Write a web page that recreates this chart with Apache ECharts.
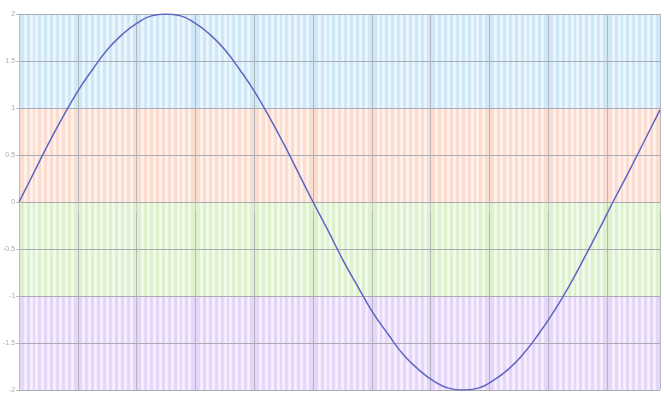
<!DOCTYPE html>
<html><head><meta charset="utf-8">
<script src="https://cdn.jsdelivr.net/npm/echarts@6/dist/echarts.min.js"></script>
<style>html,body{margin:0;padding:0;background:#fff}#c{width:664px;height:403px}</style>
</head><body><div id="c"></div>
<script>
const xValues = [0,0.25,0.5,0.75,1,1.25,1.5,1.75,2,2.25,2.5,2.75,3,3.25,3.5,3.75,4,4.25,4.5,4.75,5,5.26,5.51,5.77,6.02,6.28,6.53,6.79,7.04,7.3,7.55,7.81,8.06,8.32,8.57,8.83,9.08,9.34,9.59,9.85,10.1,10.36,10.61,10.9];
const yValues = [0,0.31,0.62,0.91,1.18,1.41,1.62,1.78,1.9,1.98,2,1.98,1.9,1.78,1.62,1.41,1.18,0.91,0.62,0.31,0,-0.31,-0.62,-0.91,-1.18,-1.41,-1.62,-1.78,-1.9,-1.98,-2,-1.98,-1.9,-1.78,-1.62,-1.41,-1.18,-0.91,-0.62,-0.31,0,0.31,0.62,0.98];
const yTicks = [-2,-1.5,-1,-0.5,0,0.5,1,1.5,2];
// band colours from bottom (-2) to top (2), one per 0.5 step
const bandColors = ['#e6d6fa','#e6d6fa','#dcf1cc','#dcf1cc','#fbdccf','#fbdccf','#cfe8f8','#cfe8f8'];
const chart = echarts.init(document.getElementById('c'));
chart.setOption({
  animation:false,
  grid:{left:18,right:4,top:14,bottom:13},
  xAxis:{type:'value',min:0,max:10.9,interval:1,z:1,
    axisLine:{show:true,lineStyle:{color:'#bbb'}},
    axisTick:{show:true,length:10,inside:false,lineStyle:{color:'#ccc'}},
    axisLabel:{show:false},
    splitLine:{show:true,lineStyle:{color:'#b4b8be',width:1}},
    minorTick:{show:false,splitNumber:10},
    minorSplitLine:{show:true,lineStyle:{color:'rgba(255,255,255,0.7)',width:2.5}}
  },
  yAxis:[{type:'value',min:-2,max:2,interval:0.5,z:0,
    axisLine:{show:false},axisTick:{show:false},axisLabel:{show:false},
    splitLine:{show:false},
    splitArea:{show:true,areaStyle:{color:bandColors}}
  },{type:'value',min:-2,max:2,interval:0.5,z:2,position:'left',
    axisLine:{show:true,lineStyle:{color:'#bbb'}},
    axisTick:{show:true,length:3,lineStyle:{color:'#bbb'}},
    axisLabel:{fontSize:7,color:'#aaa',margin:4,
      formatter:v=>yTicks.includes(v)?String(v):''},
    splitLine:{show:true,lineStyle:{color:'#a9acb2',width:1}}
  }],
  series:[{
    type:'line',smooth:true,showSymbol:false,yAxisIndex:0,z:3,
    data:xValues.map((x,i)=>[x,yValues[i]]),
    lineStyle:{color:'#6064c2',width:1.5}
  }]
});
</script></body></html>
